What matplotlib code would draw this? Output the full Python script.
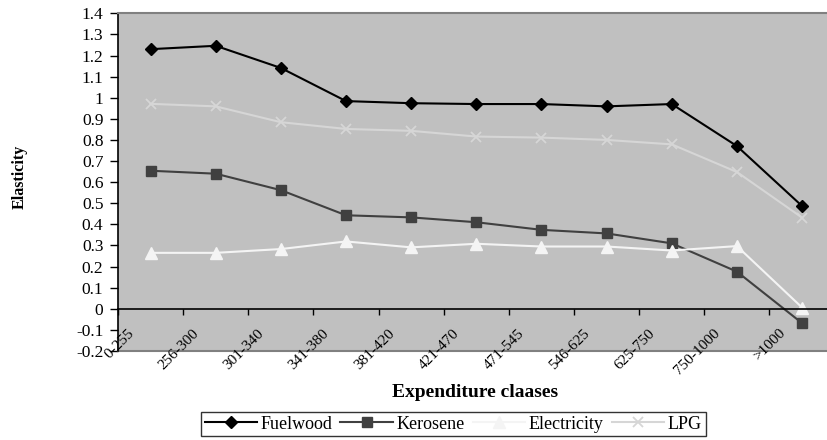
import matplotlib
matplotlib.use("Agg")
import matplotlib.pyplot as plt
from matplotlib.ticker import FuncFormatter

plt.rcParams['font.family'] = ['Liberation Serif', 'DejaVu Serif']
plt.rcParams['axes.unicode_minus'] = False

# data
classes = ['0-255', '256-300', '301-340', '341-380', '381-420', '421-470',
           '471-545', '546-625', '625-750', '750-1000', '>1000']
fuelwood = [1.230, 1.246, 1.141, 0.984, 0.974, 0.970, 0.970, 0.959, 0.970, 0.771, 0.487]
kerosene = [0.654, 0.640, 0.562, 0.443, 0.433, 0.410, 0.374, 0.357, 0.310, 0.176, -0.068]
electricity = [0.265, 0.265, 0.283, 0.319, 0.291, 0.308, 0.295, 0.295, 0.276, 0.297, 0.006]
lpg = [0.971, 0.959, 0.884, 0.852, 0.843, 0.816, 0.811, 0.800, 0.779, 0.648, 0.432]

x = list(range(len(classes)))

fig = plt.figure(figsize=(8.27, 4.40), dpi=100)
ax = fig.add_axes([0.1427, 0.2023, 0.8665, 0.7675])
ax.set_facecolor('#C0C0C0')

ax.plot(x, fuelwood, color='black', lw=1.5, marker='D', ms=6.5, label='Fuelwood')
ax.plot(x, kerosene, color='#404040', lw=1.5, marker='s', ms=7.5, label='Kerosene')
ax.plot(x, electricity, color='#F4F4F4', lw=1.5, marker='^', ms=8, label='Electricity')
ax.plot(x, lpg, color='#D6D6D6', lw=1.5, marker='x', ms=7, mew=1.3, label='LPG')

ax.set_xlim(-0.5, len(classes) - 0.5)
ax.set_ylim(-0.2, 1.4)

# y axis
ax.set_yticks([i / 10 for i in range(-2, 15)])
ax.yaxis.set_major_formatter(FuncFormatter(lambda v, p: '%g' % round(v, 1)))
ax.tick_params(axis='y', direction='out', length=5.5, width=1, labelsize=12.5, pad=5)
ax.spines['left'].set_color('black')
ax.spines['left'].set_linewidth(1.2)

# x axis sits on zero
ax.spines['bottom'].set_position(('data', 0))
ax.spines['bottom'].set_color('black')
ax.spines['bottom'].set_linewidth(1.2)
ax.set_xticks([i - 0.5 for i in range(len(classes) + 1)])
ax.set_xticklabels([])
ax.tick_params(axis='x', direction='out', length=4, width=1)

for s in ['top', 'right']:
    ax.spines[s].set_color('#808080')
    ax.spines[s].set_linewidth(1.5)
ax.axhline(-0.2, color='#808080', lw=1.5, clip_on=False)

for i, lab in enumerate(classes):
    ax.text(i - 0.22, -0.085, lab, rotation=45, ha='right', va='top', fontsize=11)

fig.text(0.024, 0.599, 'Elasticity', rotation=90, ha='center', va='center',
         fontsize=11.5, fontweight='bold')
fig.text(0.575, 0.108, 'Expenditure claases', ha='center', va='center',
         fontsize=14, fontweight='bold')

leg = fig.legend(loc='center', bbox_to_anchor=(0.548, 0.036), ncol=4, fontsize=13,
                 frameon=True, fancybox=False, edgecolor='black', handlelength=2.9,
                 handletextpad=0.2, columnspacing=0.45, borderpad=0.2,
                 borderaxespad=0)
leg.get_frame().set_linewidth(1)

plt.savefig('out.png', dpi=100)
